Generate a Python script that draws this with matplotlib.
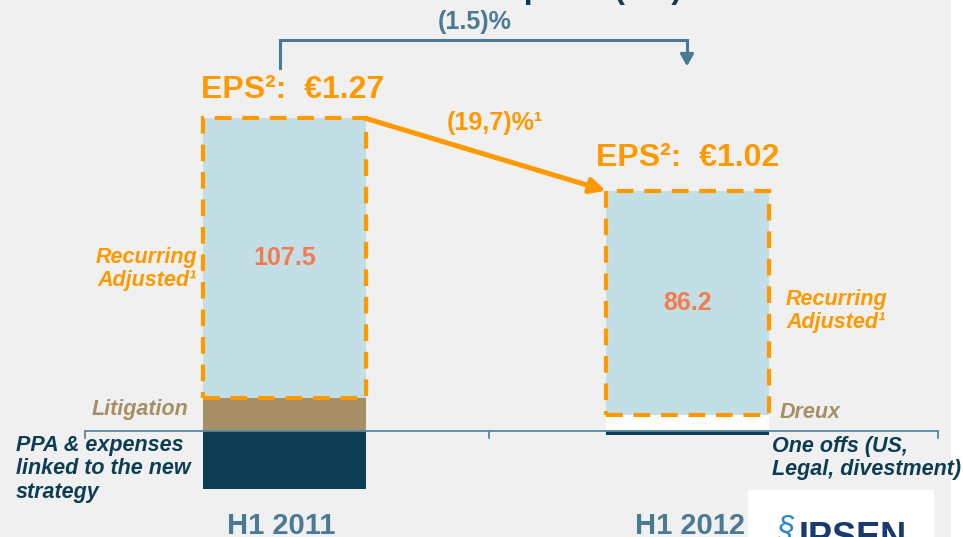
import matplotlib.pyplot as plt

# valeurs (EUR m)
periodes = ["H1 2011", "H1 2012"]
recurrent = [107.5, 86.2]
elements_pos = [12.7, 6.2]      # Litigation / Dreux
elements_neg = [-22.3, -1.5]    # PPA & expenses / One offs
eps = ["€1.27", "€1.02"]
var_eps = "(19,7)%¹"
var_total = "(1.5)%"

orange = "#ff9900"
bleu_clair = "#c2dfe5"
marine = "#0d3d52"
brun = "#a68f64"
acier = "#4a7a94"
corail = "#f47a50"
fond = "#f0f0f0"

plt.rcParams['font.family'] = ['Liberation Sans', 'DejaVu Sans']

fig = plt.figure(figsize=(9.63, 5.37), dpi=100)
fig.patch.set_facecolor(fond)

# axe des barres (donnees) : zero a 431 px depuis le haut, 2.6 px par unite
ax = fig.add_axes([0, 0, 1, 1])
ax.set_xlim(-284.5 / 403, 1 + (963 - 687.5) / 403)
ax.set_ylim(-106 / 2.6, 431 / 2.6)
ax.axis("off")
ax.patch.set_alpha(0)

# axe de decor en pixels
ov = fig.add_axes([0, 0, 1, 1], zorder=5)
ov.set_xlim(0, 963)
ov.set_ylim(537, 0)
ov.axis("off")
ov.patch.set_alpha(0)

x = [0, 1]
w = 0.405
couleurs_pos = [brun, "white"]

ax.bar(x, elements_pos, width=w, color=couleurs_pos, zorder=2)
ax.bar(x, recurrent, width=w, bottom=elements_pos, color=bleu_clair, zorder=2)
ax.bar(x, elements_neg, width=w, color=marine, zorder=2)
ax.bar(x, recurrent, width=w, bottom=elements_pos, fill=False, edgecolor=orange,
       linewidth=3, linestyle=(0, (4, 2.6)), zorder=3)

sommets = [r + p for r, p in zip(recurrent, elements_pos)]
for i in x:
    ax.text(i, elements_pos[i] + recurrent[i] / 2, f"{recurrent[i]:.1f}", color=corail,
            fontsize=18, fontweight="bold", ha="center", va="center", zorder=4)
    ax.text(i - w / 2 - 0.005 - 0.02 * i, sommets[i] + 5 + 2 * i, "EPS²:  " + eps[i], color=orange,
            fontsize=23, fontweight="bold", ha="left", va="bottom")

# fleche orange entre les deux EPS
ax.annotate("", xy=(1 - w / 2, sommets[1]), xytext=(w / 2, sommets[0]),
            arrowprops=dict(arrowstyle="-|>,head_length=0.9,head_width=0.45",
                            color=orange, lw=3.6, shrinkA=0, shrinkB=0), zorder=4)
ov.text(495, 123, var_eps, color=orange, fontsize=18, fontweight="bold", ha="center", va="center")

# ligne de base et graduations
ov.plot([85, 938], [431, 431], color="#5a87a0", lw=1.3, zorder=1)
for xt in [85, 489, 938]:
    ov.plot([xt, xt], [431, 438], color="#5a87a0", lw=1.3)

# crochet (1.5)%
ov.plot([280, 280, 687, 687], [68, 40, 40, 54], color=acier, lw=2.2, solid_joinstyle="miter")
ov.annotate("", xy=(687, 69), xytext=(687, 52),
            arrowprops=dict(arrowstyle="-|>,head_length=0.7,head_width=0.4", color=acier, lw=2.2))
ov.text(475, 22, var_total, color=acier, fontsize=18, fontweight="bold", ha="center", va="center")

# titre coupe en haut
ov.text(469, -2, "Consolidated net profit (€m)", color=marine, fontsize=23, fontweight="bold",
        ha="center", va="baseline")

# libelles
ov.text(197, 269, "Recurring\nAdjusted¹", color=orange, fontsize=15.5, fontweight="bold",
        style="italic", ha="right", va="center", linespacing=1.15)
ov.text(786, 311, "Recurring\nAdjusted¹", color=orange, fontsize=15.5, fontweight="bold",
        style="italic", ha="left", va="center", linespacing=1.15)
ov.text(188, 409, "Litigation", color=brun, fontsize=15.5, fontweight="bold",
        style="italic", ha="right", va="center")
ov.text(780, 413, "Dreux", color=brun, fontsize=15.5, fontweight="bold",
        style="italic", ha="left", va="center")
ov.text(16, 469, "PPA & expenses\nlinked to the new\nstrategy", color=marine, fontsize=15.5,
        fontweight="bold", style="italic", ha="left", va="center", linespacing=1.15)
ov.text(772, 458, "One offs (US,\nLegal, divestment)", color=marine, fontsize=15.5,
        fontweight="bold", style="italic", ha="left", va="center", linespacing=1.15)

for i in x:
    ov.text([281, 690][i], 526, periodes[i], color=acier, fontsize=21, fontweight="bold",
            ha="center", va="center")

# bord droit blanc et logo
ov.add_patch(plt.Rectangle((951, 0), 12, 537, color="white", zorder=0))
ov.add_patch(plt.Rectangle((748, 490), 185, 47, color="white", zorder=1))
ov.text(786, 530, "§", color="#2a86c8", fontsize=22, style="italic", ha="center", va="center", zorder=2)
ov.text(799, 538, "IPSEN", color="#1a3a6e", fontsize=26, fontweight="bold", ha="left",
        va="center", zorder=2)

fig.savefig("out.png", dpi=100, facecolor=fond)
